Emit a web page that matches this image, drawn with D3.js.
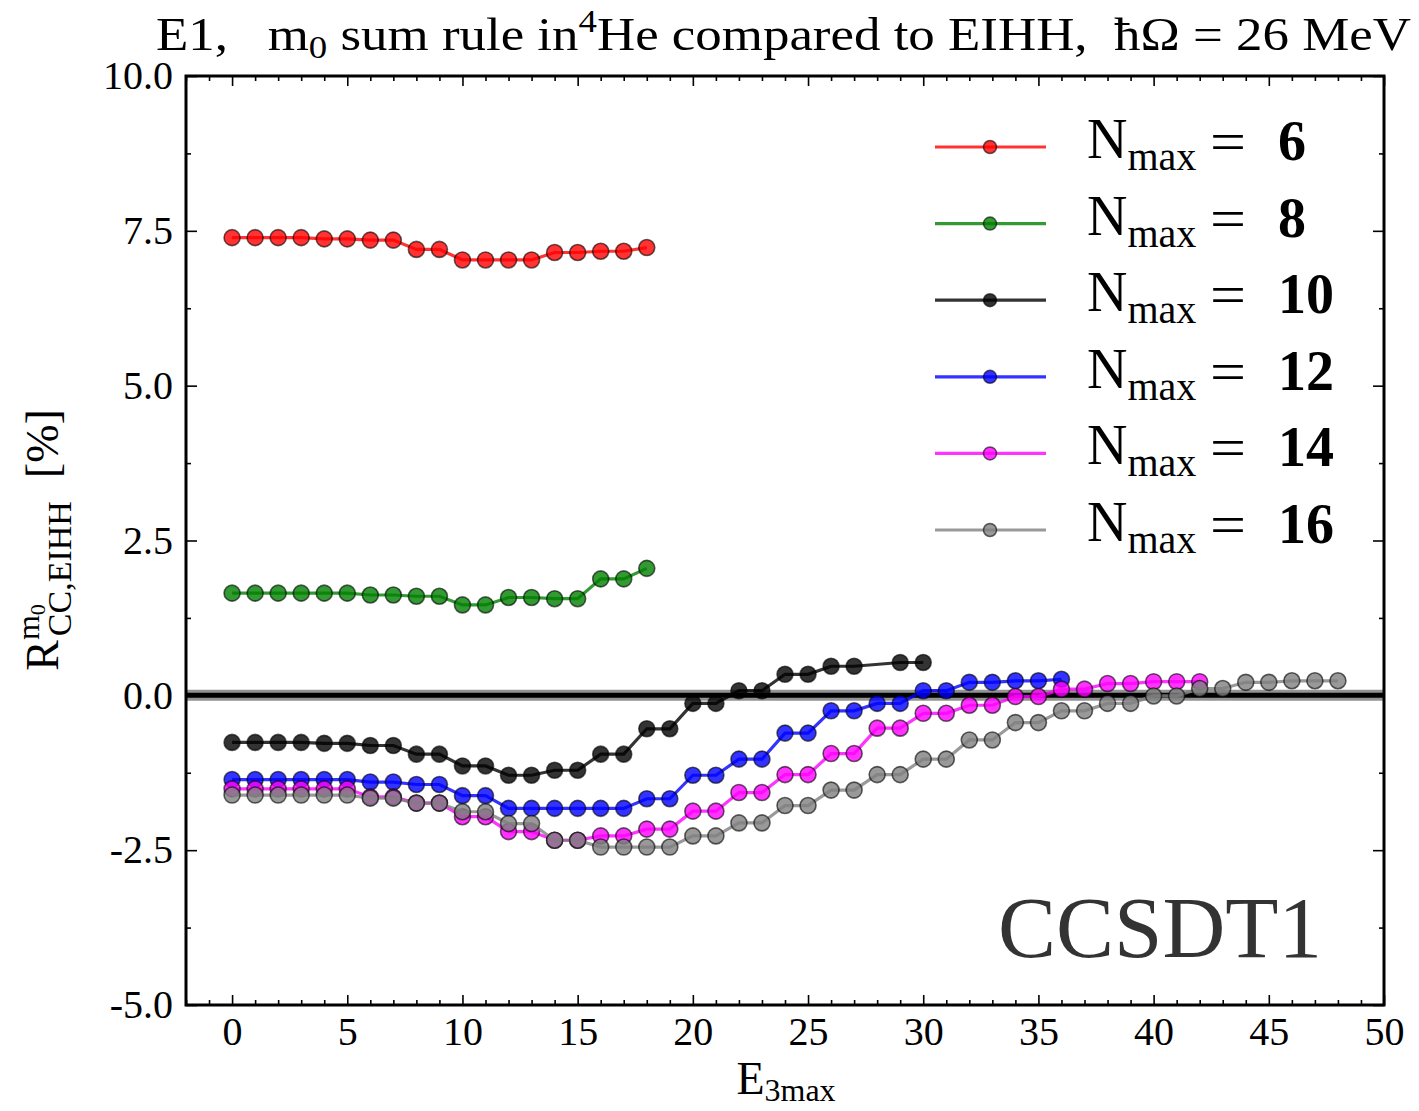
<!DOCTYPE html>
<html>
<head>
<meta charset="utf-8">
<script src="https://cdn.jsdelivr.net/npm/d3@7"></script>
<style>
  body { margin: 0; background: #fff; }
  svg text { font-family: "Liberation Serif", "DejaVu Serif", serif; white-space: pre; }
</style>
</head>
<body>
<div id="chart"></div>
<script>
// E3max values per Nmax run (black run has no point at 28)
var e3maxN6 = d3.range(0, 19);
var e3maxN8 = d3.range(0, 19);
var e3maxN10 = d3.range(0, 28).concat([29, 30]);
var e3maxN12 = d3.range(0, 37);
var e3maxN14 = d3.range(0, 43);
var e3maxN16 = d3.range(0, 49);

// relative deviation from EIHH in percent
var ratioN6 = [7.39, 7.39, 7.39, 7.39, 7.37, 7.37, 7.35, 7.35, 7.20, 7.20,
    7.03, 7.03, 7.03, 7.03, 7.15, 7.15, 7.17, 7.17, 7.23];
var ratioN8 = [1.65, 1.65, 1.65, 1.65, 1.65, 1.65, 1.62, 1.62, 1.60, 1.60,
    1.46, 1.46, 1.58, 1.58, 1.56, 1.56, 1.88, 1.88, 2.05];
var ratioN10 = [-0.76, -0.76, -0.76, -0.76, -0.775, -0.775, -0.81, -0.81, -0.95, -0.95,
    -1.14, -1.14, -1.29, -1.29, -1.21, -1.21, -0.95, -0.95, -0.54, -0.54,
    -0.13, -0.13, 0.075, 0.075, 0.34, 0.34, 0.47, 0.47, 0.53, 0.53];
var ratioN12 = [-1.36, -1.36, -1.36, -1.36, -1.36, -1.36, -1.40, -1.40, -1.44, -1.44,
    -1.62, -1.62, -1.825, -1.825, -1.825, -1.825, -1.825, -1.825, -1.67, -1.67,
    -1.29, -1.29, -1.03, -1.03, -0.61, -0.61, -0.25, -0.25, -0.13, -0.13,
    0.075, 0.075, 0.21, 0.21, 0.235, 0.235, 0.26];
var ratioN14 = [-1.51, -1.51, -1.51, -1.51, -1.51, -1.51, -1.64, -1.64, -1.74, -1.74,
    -1.96, -1.96, -2.20, -2.20, -2.34, -2.34, -2.27, -2.27, -2.16, -2.16,
    -1.87, -1.87, -1.57, -1.57, -1.28, -1.28, -0.94, -0.94, -0.53, -0.53,
    -0.29, -0.29, -0.16, -0.16, -0.02, -0.02, 0.10, 0.10, 0.19, 0.19,
    0.22, 0.22, 0.22];
var ratioN16 = [-1.61, -1.61, -1.61, -1.61, -1.61, -1.61, -1.66, -1.66, -1.74, -1.74,
    -1.88, -1.88, -2.07, -2.07, -2.34, -2.34, -2.45, -2.45, -2.45, -2.45,
    -2.27, -2.27, -2.06, -2.06, -1.78, -1.78, -1.53, -1.53, -1.28, -1.28,
    -1.03, -1.03, -0.72, -0.72, -0.44, -0.44, -0.25, -0.25, -0.13, -0.13,
    -0.01, -0.01, 0.11, 0.11, 0.21, 0.21, 0.235, 0.235, 0.235];

var nmaxLabels = ["6", "8", "10", "12", "14", "16"];
var seriesColors = ["#ff0000", "#008000", "#000000", "#0000ff", "#ff00ff", "#808080"];

var xTicks = [0, 5, 10, 15, 20, 25, 30, 35, 40, 45, 50];
var yTicks = [-5, -2.5, 0, 2.5, 5, 7.5, 10];

var series = [
    {x: e3maxN6, y: ratioN6},
    {x: e3maxN8, y: ratioN8},
    {x: e3maxN10, y: ratioN10},
    {x: e3maxN12, y: ratioN12},
    {x: e3maxN14, y: ratioN14},
    {x: e3maxN16, y: ratioN16}
].map(function(s, i) {
    return {
        label: nmaxLabels[i],
        color: seriesColors[i],
        points: s.x.map(function(v, j) { return [v, s.y[j]]; })
    };
});

var width = 1419, height = 1111;
var plotLeft = 186, plotRight = 1384, plotTop = 76, plotBottom = 1005;

var svg = d3.select("#chart").append("svg")
    .attr("width", width)
    .attr("height", height);

var x = d3.scaleLinear().domain([-2, 50]).range([plotLeft, plotRight]);
var y = d3.scaleLinear().domain([-5, 10]).range([plotBottom, plotTop]);

var tickFont = 40;

// minor + major ticks on all four sides, pointing inward
function styleAxis(g) {
    g.select(".domain").remove();
    g.selectAll(".tick line").attr("stroke", "#000").attr("stroke-width", 1.6);
    g.selectAll(".tick text")
        .attr("font-size", tickFont)
        .attr("font-family", "Liberation Serif, serif")
        .attr("fill", "#000");
}

var xMinor = d3.range(-2, 51).filter(function(d) { return d % 5 !== 0; });
var yMinor = d3.range(-5, 10.01, 1.25).filter(function(d) { return yTicks.indexOf(d) < 0; });

svg.append("g").attr("transform", "translate(0," + plotBottom + ")")
    .call(d3.axisBottom(x).tickValues(xMinor).tickSize(-5).tickFormat(""))
    .call(styleAxis);
svg.append("g").attr("transform", "translate(0," + plotBottom + ")")
    .call(d3.axisBottom(x).tickValues(xTicks).tickSize(-10).tickPadding(12).tickFormat(d3.format("d")))
    .call(styleAxis);
svg.append("g").attr("transform", "translate(0," + plotTop + ")")
    .call(d3.axisTop(x).tickValues(xMinor).tickSize(-5).tickFormat(""))
    .call(styleAxis);
svg.append("g").attr("transform", "translate(0," + plotTop + ")")
    .call(d3.axisTop(x).tickValues(xTicks).tickSize(-10).tickFormat(""))
    .call(styleAxis);

svg.append("g").attr("transform", "translate(" + plotLeft + ",0)")
    .call(d3.axisLeft(y).tickValues(yMinor).tickSize(-5).tickFormat(""))
    .call(styleAxis);
svg.append("g").attr("transform", "translate(" + plotLeft + ",0)")
    .call(d3.axisLeft(y).tickValues(yTicks).tickSize(-11).tickPadding(13)
        .tickFormat(function(d) { return d3.format(".1f")(d).replace("−", "-"); }))
    .call(styleAxis);
svg.append("g").attr("transform", "translate(" + plotRight + ",0)")
    .call(d3.axisRight(y).tickValues(yMinor).tickSize(-5).tickFormat(""))
    .call(styleAxis);
svg.append("g").attr("transform", "translate(" + plotRight + ",0)")
    .call(d3.axisRight(y).tickValues(yTicks).tickSize(-11).tickFormat(""))
    .call(styleAxis);

// zero reference line
svg.append("line")
    .attr("x1", plotLeft).attr("x2", plotRight)
    .attr("y1", y(0)).attr("y2", y(0))
    .attr("stroke", "#808080").attr("stroke-opacity", 0.85).attr("stroke-width", 11);
svg.append("line")
    .attr("x1", plotLeft).attr("x2", plotRight)
    .attr("y1", y(0)).attr("y2", y(0))
    .attr("stroke", "#000").attr("stroke-width", 5);

var line = d3.line()
    .x(function(d) { return x(d[0]); })
    .y(function(d) { return y(d[1]); });

var markerR = 8;

series.forEach(function(s) {
    var g = svg.append("g");
    g.append("path")
        .datum(s.points)
        .attr("d", line)
        .attr("fill", "none")
        .attr("stroke", s.color)
        .attr("stroke-opacity", 0.8)
        .attr("stroke-width", 3.2);
    g.selectAll("circle")
        .data(s.points)
        .enter().append("circle")
        .attr("cx", function(d) { return x(d[0]); })
        .attr("cy", function(d) { return y(d[1]); })
        .attr("r", markerR)
        .attr("fill", s.color)
        .attr("fill-opacity", 0.8)
        .attr("stroke", "#000")
        .attr("stroke-opacity", 0.6)
        .attr("stroke-width", 1.6);
});

// frame
svg.append("rect")
    .attr("x", plotLeft).attr("y", plotTop)
    .attr("width", plotRight - plotLeft).attr("height", plotBottom - plotTop)
    .attr("fill", "none")
    .attr("stroke", "#000")
    .attr("stroke-width", 3);

// legend
var legend = svg.append("g");
series.forEach(function(s, i) {
    var ly = 147 + i * 76.6;
    legend.append("line")
        .attr("x1", 935).attr("x2", 1046)
        .attr("y1", ly).attr("y2", ly)
        .attr("stroke", s.color).attr("stroke-opacity", 0.8).attr("stroke-width", 3.2);
    legend.append("circle")
        .attr("cx", 990).attr("cy", ly).attr("r", 6.5)
        .attr("fill", s.color).attr("fill-opacity", 0.8)
        .attr("stroke", "#000").attr("stroke-opacity", 0.6).attr("stroke-width", 1.5);
    var t = legend.append("text")
        .attr("x", 1087).attr("y", ly + 11)
        .attr("font-size", 56)
        .attr("fill", "#000");
    t.append("tspan").text("N");
    t.append("tspan").attr("dy", 12).attr("font-size", 40).text("max");
    legend.append("text")
        .attr("x", 1210).attr("y", ly + 14)
        .attr("font-size", 58)
        .attr("textLength", 36)
        .attr("lengthAdjust", "spacingAndGlyphs")
        .text("=");
    legend.append("text")
        .attr("x", 1278).attr("y", ly + 13)
        .attr("font-size", 56)
        .attr("font-weight", "bold")
        .text(s.label);
});

// method tag
svg.append("text")
    .attr("x", 998).attr("y", 957)
    .attr("font-size", 86)
    .attr("fill", "#333")
    .attr("textLength", 324)
    .attr("lengthAdjust", "spacingAndGlyphs")
    .text("CCSDT1");

// title
var title = svg.append("text")
    .attr("x", 156).attr("y", 50)
    .attr("font-size", 46)
    .attr("fill", "#000")
    .attr("textLength", 1255)
    .attr("lengthAdjust", "spacingAndGlyphs");
title.append("tspan").text("E1,   m");
title.append("tspan").attr("dy", 8).attr("font-size", 32).text("0");
title.append("tspan").attr("dy", -8).text(" sum rule in");
title.append("tspan").attr("dy", -18).attr("font-size", 32).text("4");
title.append("tspan").attr("dy", 18).text("He compared to EIHH,  ħΩ = 26 MeV");

// x label
var xl = svg.append("text")
    .attr("x", 786).attr("y", 1094)
    .attr("text-anchor", "middle")
    .attr("font-size", 46);
xl.append("tspan").text("E");
xl.append("tspan").attr("dy", 7).attr("font-size", 32).text("3max");

// y label
var yl = svg.append("text")
    .attr("transform", "translate(58,540) rotate(-90)")
    .attr("text-anchor", "middle")
    .attr("font-size", 46);
yl.append("tspan").text("R");
yl.append("tspan").attr("dy", -19).attr("font-size", 32).text("m");
yl.append("tspan").attr("dy", 6).attr("font-size", 22).text("0");
yl.append("tspan").attr("dx", -32).attr("dy", 26).attr("font-size", 34).text("CC,EIHH");
yl.append("tspan").attr("dy", -13).attr("font-size", 46).text("  [%]");
</script>
</body>
</html>
